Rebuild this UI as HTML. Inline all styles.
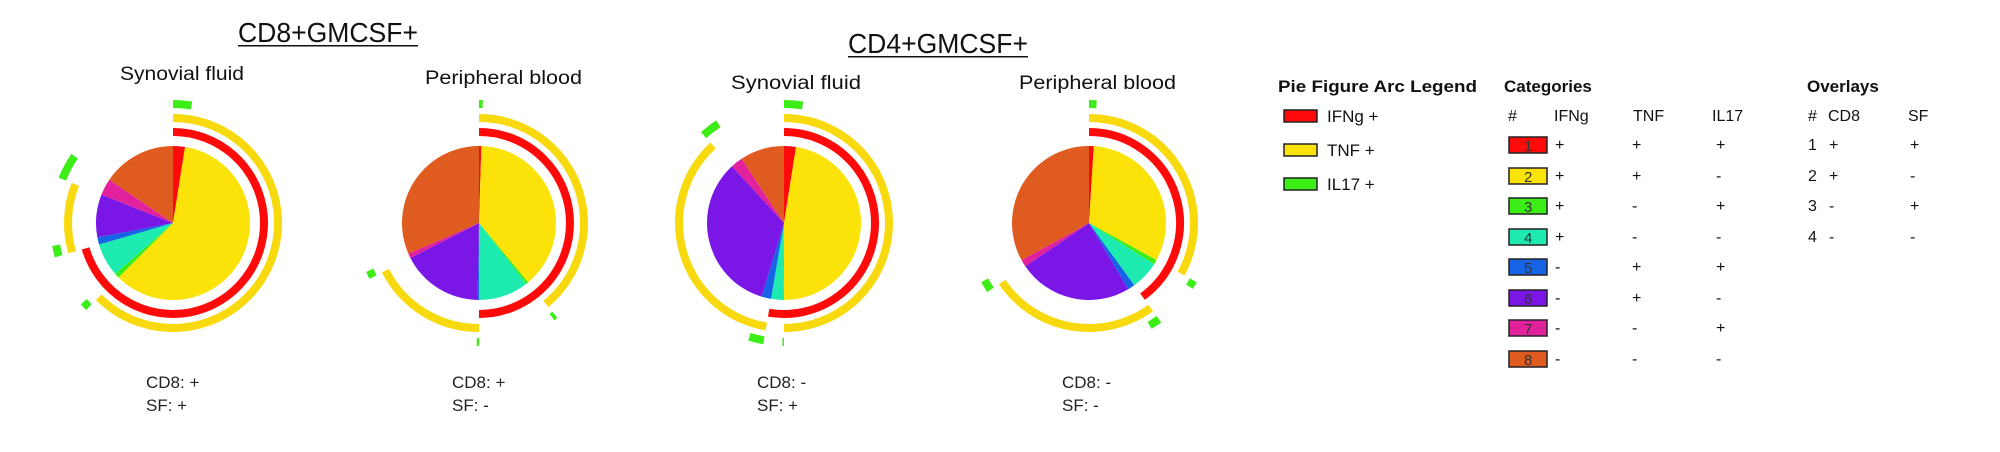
<!DOCTYPE html>
<html><head><meta charset="utf-8"><style>
html,body{margin:0;padding:0;background:#fff;}
svg{display:block;font-family:"Liberation Sans",sans-serif;}
</style></head><body>
<svg id="fig" width="2000" height="452" viewBox="0 0 2000 452" xmlns="http://www.w3.org/2000/svg">
  <g fill="#111">
    <text x="238" y="42" font-size="28" textLength="180" lengthAdjust="spacingAndGlyphs">CD8+GMCSF+</text>
    <rect x="238" y="45" width="180" height="1.5" fill="#111"/>
    <text x="848" y="53" font-size="28" textLength="180" lengthAdjust="spacingAndGlyphs">CD4+GMCSF+</text>
    <rect x="848" y="56" width="180" height="1.5" fill="#111"/>
    <text x="120" y="80" font-size="19" textLength="124" lengthAdjust="spacingAndGlyphs">Synovial fluid</text>
    <text x="425" y="84" font-size="19" textLength="157" lengthAdjust="spacingAndGlyphs">Peripheral blood</text>
    <text x="731" y="89" font-size="19" textLength="130" lengthAdjust="spacingAndGlyphs">Synovial fluid</text>
    <text x="1019" y="89" font-size="19" textLength="157" lengthAdjust="spacingAndGlyphs">Peripheral blood</text>
  </g>
  <g id="pies"></g>
  <g id="legend" fill="#111" font-size="16"></g>
</svg>
<script>
// Category shares (%) per pie, categories 1..8 clockwise from 12 o'clock
const pieLabels = ["SF CD8", "PB CD8", "SF CD4", "PB CD4"];
const pie1Values = [2.5, 60, 1, 7, 1.5, 9, 3.5, 15.5];
const pie2Values = [0.5, 38.5, 0.5, 10.5, 0.3, 17.2, 1, 31.5];
const pie3Values = [2.5, 47.5, 0.2, 2.5, 2, 33.5, 2.5, 9.3];
const pie4Values = [1, 32, 1, 6, 1.5, 24, 1.5, 33];
const ifngPos = [1, 1, 1, 1, 0, 0, 0, 0];
const tnfPos  = [1, 1, 0, 0, 1, 1, 0, 0];
const il17Pos = [1, 0, 1, 0, 1, 0, 1, 0];
const cd8Labels = ["+", "+", "-", "-"];
const sfLabels = ["+", "-", "+", "-"];

const NS = "http://www.w3.org/2000/svg";
const catColors = ["#ff0a0a","#fbe30a","#3ded18","#1debb0","#1663e6","#7a17e6","#e2229c","#df5b1f"];
const centers = [[173,223],[479,223],[784,223],[1089,223]];
const R = 77;
function mk(tag, attrs, parent){const e=document.createElementNS(NS,tag);for(const k in attrs)e.setAttribute(k,attrs[k]);parent.appendChild(e);return e;}
function pt(cx,cy,r,a){const t=a/100*2*Math.PI;return [cx+r*Math.sin(t), cy-r*Math.cos(t)];}
function arcPath(cx,cy,r,a0,a1){const p0=pt(cx,cy,r,a0),p1=pt(cx,cy,r,a1);const lg=(a1-a0)>50?1:0;return `M${p0[0]},${p0[1]} A${r},${r} 0 ${lg} 1 ${p1[0]},${p1[1]}`;}
function slicePath(cx,cy,r,a0,a1){const p0=pt(cx,cy,r,a0),p1=pt(cx,cy,r,a1);const lg=(a1-a0)>50?1:0;return `M${cx},${cy} L${p0[0]},${p0[1]} A${r},${r} 0 ${lg} 1 ${p1[0]},${p1[1]} Z`;}

const piesG=document.getElementById('pies');
const allVals=[pie1Values,pie2Values,pie3Values,pie4Values];
const rings=[{pos:ifngPos,r:91,w:8,c:"#ff0a0a",n:"ifng"},{pos:tnfPos,r:105,w:8,c:"#f7d90d",n:"tnf"},{pos:il17Pos,r:119,w:8,c:"#3ded18",n:"il17"}];
allVals.forEach((vals,pi)=>{
  const [cx,cy]=centers[pi];
  const g=mk('g',{},piesG);
  
  
  const tot=vals.reduce((a,b)=>a+b,0);
  const starts=[];let acc=0;
  vals.forEach(v=>{starts.push(acc/tot*100);acc+=v;});
  vals.forEach((v,ci)=>{
    const a0=starts[ci],a1=a0+v/tot*100;
    const s=mk('path',{d:slicePath(cx,cy,R,a0,a1),fill:catColors[ci]},g);
    
    
  });
  rings.forEach(rg=>{
    let ci=0;
    while(ci<8){
      if(rg.pos[ci]){
        let cj=ci;while(cj+1<8&&rg.pos[cj+1])cj++;
        const a0=starts[ci],a1=starts[cj]+vals[cj]/tot*100;
        if(a1-a0>0.05){
          const p=mk('path',{d:arcPath(cx,cy,rg.r,a0,Math.min(a1,99.9)),fill:"none",stroke:rg.c,'stroke-width':rg.w},g);
          
          
        }
        ci=cj+1;
      } else ci++;
    }
  });
  const t1=mk('text',{x:cx-27,y:388,'font-size':17,fill:'#222'},g);
  t1.textContent='CD8: '+cd8Labels[pi];
  
  
  const t2=mk('text',{x:cx-27,y:411,'font-size':17,fill:'#222'},g);
  t2.textContent='SF: '+sfLabels[pi];
  
  
});

// Legend
const L=document.getElementById('legend');
function txt(x,y,s,extra,name){const t=mk('text',Object.assign({x:x,y:y},extra||{}),L);t.textContent=s;return t;}
txt(1278,92,"Pie Figure Arc Legend",{'font-weight':'bold','font-size':17,textLength:199,lengthAdjust:'spacingAndGlyphs'},'arc-legend-title');
const arcNames=["IFNg +","TNF +","IL17 +"];
const arcCols=["#ff0a0a","#fbe30a","#3ded18"];
const arcYs=[116,150,184];
arcNames.forEach((n,i)=>{
  const r=mk('rect',{x:1284,y:arcYs[i]-6,width:33,height:12,fill:arcCols[i],stroke:'#222','stroke-width':1.5},L);
  
  
  txt(1327,arcYs[i]+6,n,{'font-size':17},'arc-legend-label');
});
txt(1504,92,"Categories",{'font-weight':'bold','font-size':17},'categories-title');
txt(1508,121,"#",{},'cat-hash-header');
txt(1554,121,"IFNg",{},'cat-ifng-header');
txt(1633,121,"TNF",{},'cat-tnf-header');
txt(1712,121,"IL17",{},'cat-il17-header');
const rowYs=[145,176,206,237,267,298,328,359];
for(let i=0;i<8;i++){
  const y=rowYs[i];
  const r=mk('rect',{x:1509,y:y-8,width:38,height:16,fill:catColors[i],stroke:'#222','stroke-width':1.5},L);
  
  
  txt(1524,y+6,String(i+1),{'font-size':15,fill:'#333'},'category-number');
  txt(1555,y+5,ifngPos[i]?'+':'-',{},'cat-ifng-value');
  txt(1632,y+5,tnfPos[i]?'+':'-',{},'cat-tnf-value');
  txt(1716,y+5,il17Pos[i]?'+':'-',{},'cat-il17-value');
}
txt(1807,92,"Overlays",{'font-weight':'bold','font-size':17},'overlays-title');
txt(1808,121,"#",{},'ov-hash-header');
txt(1828,121,"CD8",{},'ov-cd8-header');
txt(1908,121,"SF",{},'ov-sf-header');
for(let i=0;i<4;i++){
  const y=rowYs[i]+5;
  txt(1808,y,String(i+1),{},'overlay-number');
  txt(1829,y,cd8Labels[i],{},'overlay-cd8-value');
  txt(1910,y,sfLabels[i],{},'overlay-sf-value');
}
</script>
</body></html>
